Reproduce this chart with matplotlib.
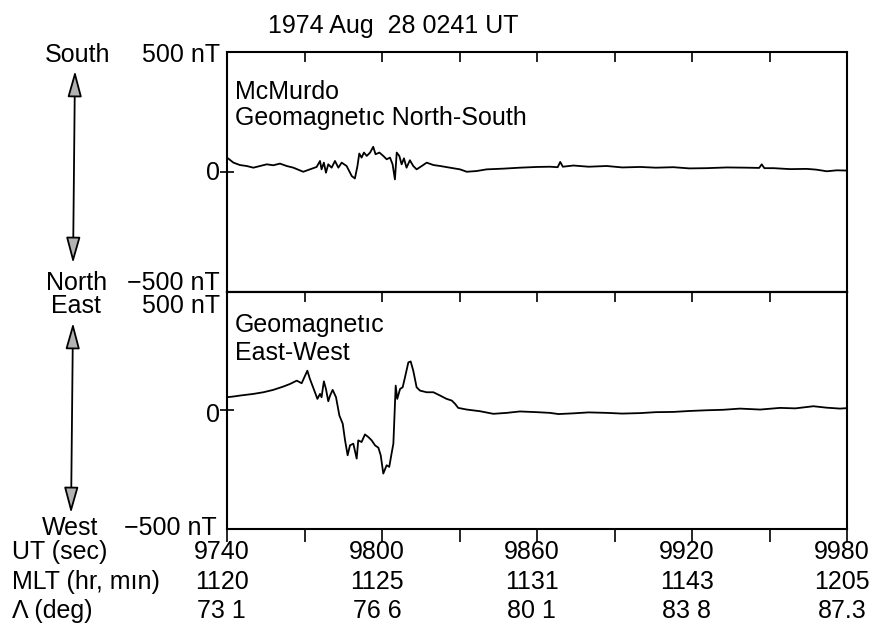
import matplotlib
matplotlib.use('Agg')
import matplotlib.pyplot as plt
from matplotlib.patches import FancyArrowPatch
from matplotlib.transforms import blended_transform_factory

plt.rcParams['font.family'] = ['Liberation Sans', 'DejaVu Sans']

# ---------------- data ----------------
title = "1974 Aug  28 0241 UT"

# North-South component (nT) vs UT (s)
ns_time = [9740, 9742.5, 9745.0, 9747.6, 9750.2, 9752.8, 9755.4, 9757.9, 9760.5, 9763.1,
           9765.7, 9769.5, 9772.1, 9774.7, 9776.0, 9776.6, 9777.5, 9778.3, 9779.2, 9780.5,
           9781.8, 9783.1, 9784.4, 9786.3, 9788.3, 9789.5, 9790.5, 9791.2, 9792.1, 9793.0,
           9794.1, 9795.4, 9796.6, 9797.5, 9799.0, 9800.5, 9801.8, 9803.1, 9804.1, 9805.0,
           9805.7, 9806.7, 9807.6, 9808.5, 9809.5, 9810.8, 9812.1, 9813.4, 9815.4, 9817.3,
           9819.9, 9822.5, 9826.3, 9830.2, 9832.8, 9836.6, 9840.5, 9847.0, 9853.4, 9859.9,
           9865.0, 9868.0, 9869.0, 9870.0, 9874.1, 9880.0, 9887.0, 9893.0, 9899.9, 9906.0,
           9912.8, 9919.0, 9925.7, 9933.5, 9941.2, 9946.0, 9947.0, 9948.0, 9951.5, 9958.0,
           9964.4, 9968.0, 9972.2, 9976.0, 9980.0]
ns_val = [60, 39, 29, 25, 18, 25, 32, 28, 35, 25,
          18, 1, 11, 21, 46, 11, 39, -3, 32, 18,
          46, 18, 39, 25, -17, -27, 25, 77, 60, 81,
          67, 81, 105, 74, 81, 67, 53, 60, 32, -31,
          81, 67, 32, 57, 18, 49, 25, 11, 25, 39,
          29, 25, 18, 11, 1, 4, 11, 14, 18, 21,
          22, 20, 42, 22, 27, 22, 25, 19, 21, 18,
          20, 15, 16, 19, 18, 17, 32, 16, 16, 12,
          13, 10, 3, 7, 6]

# East-West component (nT) vs UT (s)
ew_time = [9740, 9742.5, 9745.0, 9750.2, 9754.1, 9757.9, 9761.8, 9764.4, 9767.0, 9768.9,
           9771.1, 9772.1, 9773.7, 9775.0, 9776.0, 9776.6, 9777.5, 9778.3, 9779.2, 9779.9,
           9780.9, 9782.2, 9783.5, 9784.8, 9785.7, 9786.7, 9787.6, 9788.9, 9790.2, 9790.8,
           9792.1, 9793.4, 9794.7, 9796.0, 9797.3, 9798.6, 9799.5, 9800.5, 9801.8, 9802.8,
           9803.7, 9804.4, 9805.3, 9805.9, 9807.0, 9808.0, 9808.9, 9810.2, 9811.1, 9812.1,
           9813.4, 9814.7, 9817.3, 9819.9, 9822.5, 9825.0, 9827.0, 9828.3, 9829.5, 9832.8,
           9837.9, 9843.1, 9848.3, 9853.4, 9859.9, 9865.0, 9868.3, 9874.1, 9880.0, 9887.0,
           9893.0, 9899.9, 9906.0, 9912.8, 9919.0, 9925.7, 9932.0, 9938.6, 9946.4, 9954.1,
           9960.0, 9967.0, 9972.0, 9977.3, 9980.0]
ew_val = [56, 59, 63, 70, 77, 87, 101, 112, 126, 115,
          168, 133, 87, 49, 70, 56, 123, 91, 39, 63,
          87, 56, -21, -56, -126, -189, -147, -140, -203, -126,
          -133, -101, -112, -126, -147, -157, -189, -266, -231, -238,
          -182, -140, 105, 49, 91, 98, 140, 203, 207, 168,
          98, 84, 77, 77, 63, 49, 42, 28, 11, 4,
          -3, -14, -10, -4, -7, -10, -15, -12, -8, -10,
          -13, -11, -7, -6, -2, 1, 3, 8, 4, 11,
          9, 18, 12, 8, 10]

ut_ticks = [9740, 9770, 9800, 9830, 9860, 9890, 9920, 9950, 9980]
ut_labels = [9740, 9800, 9860, 9920, 9980]
mlt_labels = ['1120', '1125', '1131', '1143', '1205']
lat_labels = ['73 1', '76 6', '80 1', '83 8', '87.3']
row_names = ['UT (sec)', 'MLT (hr, m\u0131n)', '\u039b (deg)']

# ---------------- layout ----------------
W, H = 874, 628
FS = 18
fig = plt.figure(figsize=(W / 100, H / 100), dpi=100)
fig.patch.set_facecolor('white')


def fx(x):
    return x / W


def fy(y):
    return 1 - y / H


ax1 = fig.add_axes([fx(227), fy(292), 620 / W, 240 / H])
ax2 = fig.add_axes([fx(227), fy(529), 620 / W, 237 / H])

for ax in (ax1, ax2):
    ax.set_xlim(9740, 9980)
    ax.set_ylim(-500, 500)
    for s in ax.spines.values():
        s.set_linewidth(1.5)
    ax.set_yticks([0])
    ax.tick_params(axis='y', direction='inout', length=10, width=1.2,
                   left=True, right=False, labelleft=False)

ax1.plot(ns_time, ns_val, color='black', lw=1.3)
ax2.plot(ew_time, ew_val, color='black', lw=1.3)

# top panel: ticks on top, pointing inward
ax1.set_xticks(ut_ticks)
ax1.tick_params(axis='x', direction='in', length=7, width=1.2,
                top=True, bottom=False, labelbottom=False, labeltop=False)

# bottom panel: outward ticks at bottom, inward ticks at top
ax2.set_xticks(ut_ticks)
ax2.tick_params(axis='x', direction='out', length=9, width=1.2,
                top=False, bottom=True, labelbottom=False)
sec = ax2.secondary_xaxis('top')
sec.set_xticks(ut_ticks)
sec.tick_params(axis='x', direction='in', length=7, width=1.2, labeltop=False)
sec.spines['top'].set_linewidth(1.5)

# ---------------- texts ----------------
fig.text(fx(268), fy(33), title, fontsize=FS, ha='left', va='baseline')

fig.text(fx(235), fy(99), 'McMurdo', fontsize=FS, ha='left', va='baseline')
fig.text(fx(235), fy(125), 'Geomagnet\u0131c North-South', fontsize=FS, ha='left', va='baseline')
fig.text(fx(235), fy(332), 'Geomagnet\u0131c', fontsize=FS, ha='left', va='baseline')
fig.text(fx(235), fy(360), 'East-West', fontsize=FS, ha='left', va='baseline')

# left scale labels
fig.text(fx(220), fy(62), '500 nT', fontsize=FS, ha='right', va='baseline')
fig.text(fx(78), fy(62), 'South', fontsize=FS, ha='center', va='baseline')
fig.text(fx(220), fy(180), '0', fontsize=FS, ha='right', va='baseline')
fig.text(fx(220), fy(290), '\u2212500 nT', fontsize=FS, ha='right', va='baseline')
fig.text(fx(77), fy(290), 'North', fontsize=FS, ha='center', va='baseline')
fig.text(fx(220), fy(313), '500 nT', fontsize=FS, ha='right', va='baseline')
fig.text(fx(76), fy(313), 'East', fontsize=FS, ha='center', va='baseline')
fig.text(fx(220), fy(422), '0', fontsize=FS, ha='right', va='baseline')
fig.text(fx(217), fy(535), '\u2212500 nT', fontsize=FS, ha='right', va='baseline')
fig.text(fx(70), fy(535), 'West', fontsize=FS, ha='center', va='baseline')

# double arrows
for (x0, y0, x1, y1) in [(75, 68, 73, 266), (73, 320, 71, 516)]:
    arr = FancyArrowPatch((fx(x0), fy(y0)), (fx(x1), fy(y1)),
                          transform=fig.transFigure,
                          arrowstyle='<|-|>,head_length=0.8,head_width=0.22',
                          mutation_scale=20, lw=1.3, ec='black', fc='0.7')
    fig.patches.append(arr)

# bottom rows
trans = blended_transform_factory(ax2.transData, fig.transFigure)
row_base = [559, 589, 618]
for name, yb in zip(row_names, row_base):
    fig.text(fx(12), fy(yb), name, fontsize=FS, ha='left', va='baseline')
for i, ut in enumerate(ut_labels):
    x = ut - 2
    ax2.text(x, fy(row_base[0]), str(ut), transform=trans, fontsize=FS,
             ha='center', va='baseline', clip_on=False)
    ax2.text(x, fy(row_base[1]), mlt_labels[i], transform=trans, fontsize=FS,
             ha='center', va='baseline', clip_on=False)
    ax2.text(x, fy(row_base[2]), lat_labels[i], transform=trans, fontsize=FS,
             ha='center', va='baseline', clip_on=False)

fig.savefig('out.png', dpi=100, facecolor='white')
